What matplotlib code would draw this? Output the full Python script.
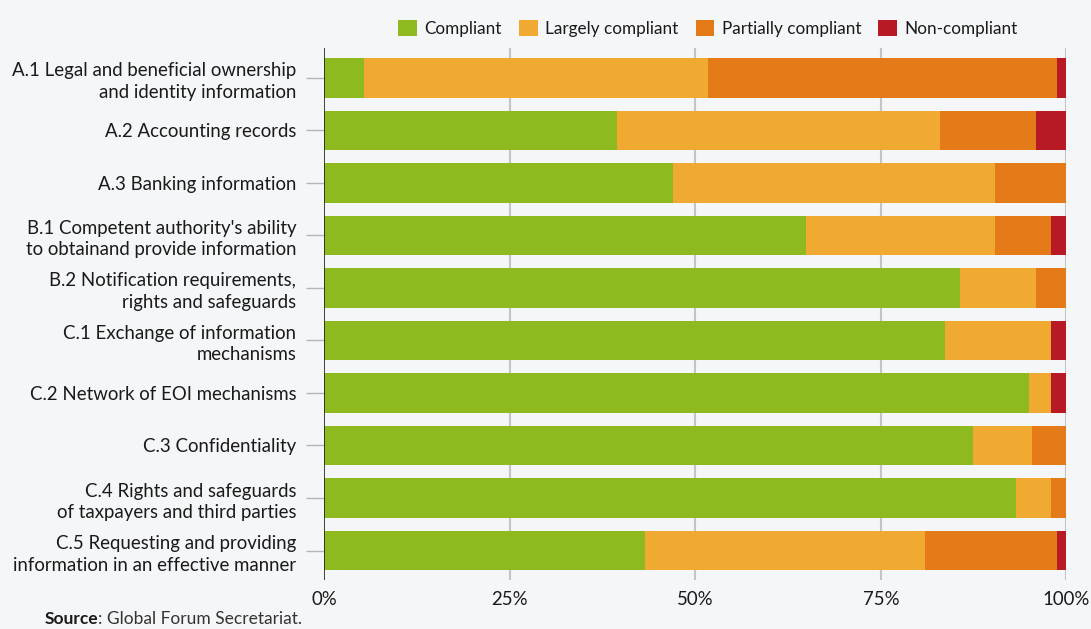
import matplotlib
matplotlib.use('Agg')
from matplotlib import pyplot as plt
from matplotlib.patches import Patch
import numpy as np

plt.rcParams['font.family'] = ['Lato', 'DejaVu Sans']

categories = [
    'A.1 Legal and beneficial ownership\nand identity information',
    'A.2 Accounting records',
    'A.3 Banking information',
    "B.1 Competent authority's ability\nto obtainand provide information",
    'B.2 Notification requirements,\nrights and safeguards',
    'C.1 Exchange of information\nmechanisms',
    'C.2 Network of EOI mechanisms',
    'C.3 Confidentiality',
    'C.4 Rights and safeguards\nof taxpayers and third parties',
    'C.5 Requesting and providing\ninformation in an effective manner',
]

compliant = [5.4, 39.5, 47.0, 64.9, 85.7, 83.7, 95.0, 87.4, 93.2, 43.3]
largely = [46.3, 43.5, 43.4, 25.5, 10.2, 14.2, 2.9, 7.9, 4.7, 37.7]
partially = [47.0, 12.9, 9.6, 7.5, 4.1, 0.0, 0.0, 4.7, 2.1, 17.7]
non_compliant = [1.3, 4.1, 0.0, 2.1, 0.0, 2.1, 2.1, 0.0, 0.0, 1.3]

series = ['Compliant', 'Largely compliant', 'Partially compliant', 'Non-compliant']
colors = ['#8fba1f', '#f0aa32', '#e57a18', '#b81a25']
xticks = [0, 25, 50, 75, 100]

bg = '#f5f6f8'
fig = plt.figure(figsize=(10.91, 6.29), dpi=100, facecolor=bg)
ax = fig.add_axes([0.297, 0.078, 0.6805, 0.845], facecolor=bg)

y = np.arange(len(categories))
left = np.zeros(len(categories))
for vals, col in zip([compliant, largely, partially, non_compliant], colors):
    ax.barh(y, vals, left=left, height=0.755, color=col, zorder=3)
    left += np.array(vals)

ax.set_xlim(0, 100)
ax.set_ylim(len(categories) - 0.44, -0.56)
ax.set_xticks(xticks)
ax.set_xticklabels([f'{t}%' for t in xticks])
ax.set_yticks(y)
ax.set_yticklabels(categories, linespacing=1.32)

for t in xticks[1:]:
    ax.axvline(t, color='#c4c4c4', lw=1.5, zorder=1)
ax.axvline(0, color='#222222', lw=1.2, zorder=4)

for s in ax.spines.values():
    s.set_visible(False)

ax.tick_params(axis='y', length=13, width=1, color='#b5b5b5', pad=7,
               labelsize=13.4, labelcolor='#1a1a1a')
ax.tick_params(axis='x', length=0, pad=8, labelsize=13.4, labelcolor='#1a1a1a')

handles = [Patch(facecolor=c, edgecolor='none') for c in colors]
fig.legend(handles, series, loc='center', bbox_to_anchor=(0.649, 0.9547),
           ncol=4, frameon=False, fontsize=12.3, handlelength=1.08,
           handleheight=1.08, handletextpad=0.45, columnspacing=1.0,
           borderpad=0, labelcolor='#1a1a1a')

src = fig.text(0.041, 0.003, 'Source', fontsize=12.5, fontweight='bold',
               color='#1a1a1a', va='bottom')
ax.annotate(': Global Forum Secretariat.', xy=(1, 0), xycoords=src,
            fontsize=12.5, color='#333333', va='bottom', annotation_clip=False)

fig.savefig('out.png', dpi=100, facecolor=bg)
